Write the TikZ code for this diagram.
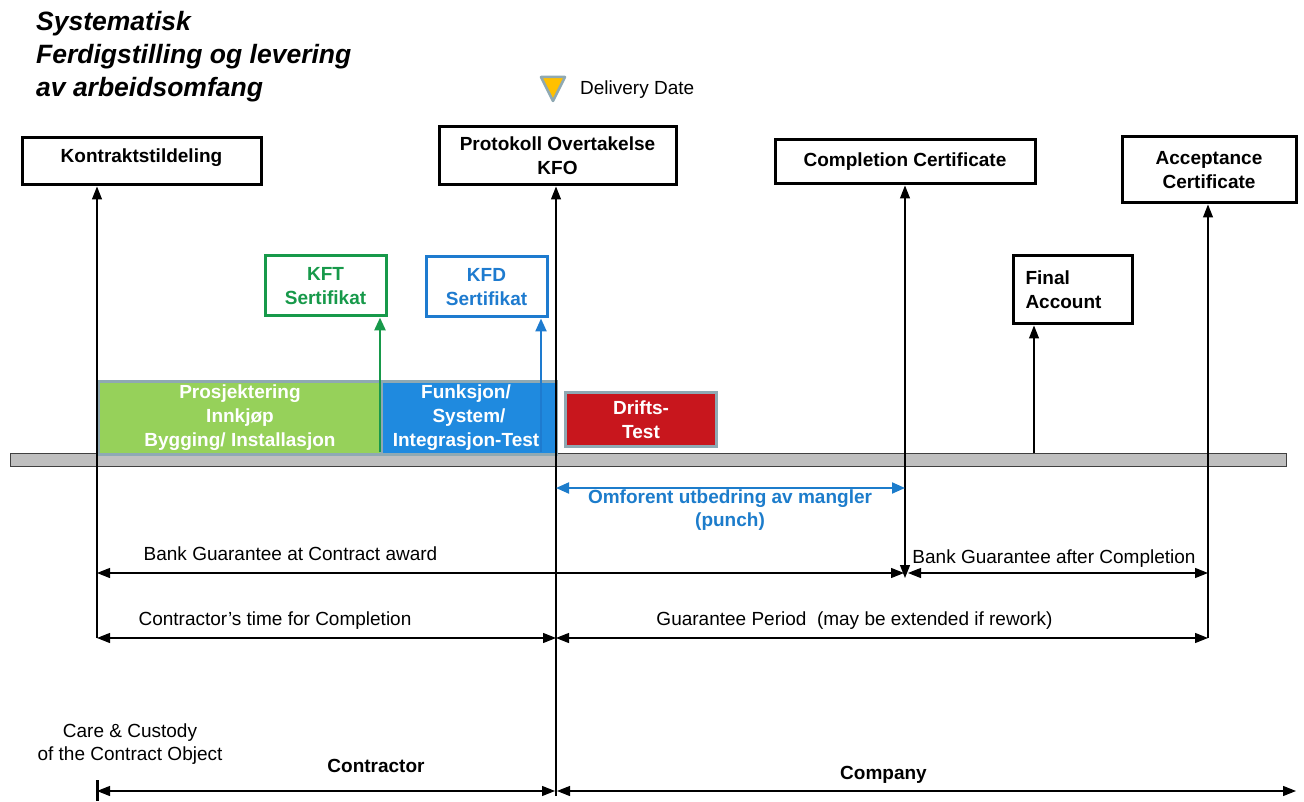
\documentclass[tikz,border=0pt]{standalone}
\usepackage{fontspec}
\setmainfont{Liberation Sans}
\usetikzlibrary{arrows.meta,calc}

\definecolor{pgreen}{HTML}{96D15A}
\definecolor{pblue}{HTML}{1F8ADF}
\definecolor{pred}{HTML}{C8161D}
\definecolor{kgreen}{HTML}{17994A}
\definecolor{kblue}{HTML}{1E7BCF}
\definecolor{punchblue}{HTML}{1C7CCB}
\definecolor{barrim}{HTML}{8FA9B3}
\definecolor{dgold}{HTML}{FFC000}

\begin{document}
\begin{tikzpicture}[x=1pt,y=-1pt,
  every node/.style={inner sep=0pt},
  ttl/.style={font=\bfseries\itshape\fontsize{26.5}{33}\selectfont},
  txt/.style={font=\fontsize{19}{23}\selectfont},
  btxt/.style={font=\bfseries\fontsize{19}{24}\selectfont, align=center},
  keybox/.style={draw=black, line width=3pt, fill=white, btxt},
  certbox/.style={draw=#1, line width=3pt, fill=white, text=#1, btxt},
  phase/.style={fill=#1, draw=barrim, line width=3pt, btxt, text=white},
  hair/.style={line width=1.1pt, black},
  uparr/.style={-{Triangle[length=13pt,width=10pt]}},
  botharr/.style={{Triangle[length=13pt,width=10pt]}-{Triangle[length=13pt,width=10pt]}},
  colarr/.style={-{Triangle[length=13pt,width=11pt]}}
]
\useasboundingbox (0,0) rectangle (1304,802);

% heading
\node[ttl, anchor=base west] (t1) at (36,31) {Systematisk};
\node[ttl, anchor=base west] (t2) at (36,64) {Ferdigstilling og levering};
\node[ttl, anchor=base west] (t3) at (36,97) {av arbeidsomfang};

% delivery date marker
\draw[fill=dgold, draw=barrim, line width=2.5pt, line join=round]
  (541,77) -- (565,77) -- (553,101) -- cycle;
\node[txt, anchor=base west] (dd) at (580,95) {Delivery Date};

% timeline bar
\node[draw=black!75, fill=black!25, line width=1pt, minimum width=1276,
      minimum height=13, anchor=north west] (tl) at (10,453) {};

% phases
\node[phase=pgreen, minimum width=283, minimum height=73, anchor=north west]
  (pg) at (97,380) {Prosjektering\\Innkjøp\\Bygging/ Installasjon};
\node[phase=pblue, minimum width=175, minimum height=73, anchor=north west]
  (pb) at (380,380) {Funksjon/\hspace*{6pt}\\System/\hspace*{6pt}\\Integrasjon-Test\hspace*{6pt}};
\node[phase=pred, minimum width=151, minimum height=54, anchor=north west]
  (pr) at (564,391) {Drifts-\\Test};

% milestone boxes
\node[keybox, minimum width=239, minimum height=47, text height=14pt, text depth=11pt]
  (kt) at (141.5,161.5) {Kontraktstildeling};
\node[keybox, minimum width=237, minimum height=58]
  (po) at (557.5,156) {Protokoll Overtakelse\\KFO};
\node[keybox, minimum width=260, minimum height=44]
  (cc) at (905,162) {Completion Certificate};
\node[keybox, minimum width=174, minimum height=66]
  (ac) at (1209,170) {Acceptance\\Certificate};
\node[keybox, minimum height=68, text width=94, inner xsep=12.5pt, align=left]
  (fa) at (1072.5,290) {Final\\Account};
\node[certbox=kgreen, minimum width=121, minimum height=60]
  (kft) at (325.5,286) {KFT\\Sertifikat};
\node[certbox=kblue, minimum width=121, minimum height=60]
  (kfd) at (486.5,287) {KFD\\Sertifikat};

% vertical connectors
\coordinate (vK) at (97,638);
\coordinate (vP) at (556,796);
\coordinate (vC) at (905,578);
\coordinate (vF) at (1034,453);
\coordinate (vA) at (1208,638);
\coordinate (vG) at (380,452);
\coordinate (vB) at (541,452);
\draw[hair, uparr] (vK) -- (vK |- kt.south);
\draw[hair, uparr] (vP) -- (vP |- po.south);
\draw[hair, botharr] (vC |- cc.south) -- (vC);
\draw[hair, uparr] (vF) -- (vF |- fa.south);
\draw[hair, uparr] (vA) -- (vA |- ac.south);
\draw[kgreen, line width=2.8pt, colarr] (vG) -- (vG |- kft.south);
\draw[kblue, line width=2.3pt, colarr] (vB) -- (vB |- kfd.south);

% punch period
\coordinate (pL) at (556,488);
\coordinate (pR) at (905,488);
\draw[punchblue, line width=2pt,
  {Triangle[length=13pt,width=11pt]}-{Triangle[length=13pt,width=11pt]}] (pL) -- (pR);
\node[btxt, text=punchblue, font=\bfseries\fontsize{19}{23}\selectfont]
  (pt) at (730,510.5) {Omforent utbedring av mangler\\(punch)};

% guarantee periods
\coordinate (g1L) at (97,573);
\coordinate (g1R) at (904,573);
\coordinate (g2L) at (908,573);
\coordinate (g2R) at (1208,573);
\draw[hair, botharr] (g1L) -- (g1R);
\draw[hair, botharr] (g2L) -- (g2R);
\node[txt, anchor=base] (g1t) at (290.5,560) {Bank Guarantee at Contract award};
\node[txt, anchor=base] (g2t) at (1054,563) {Bank Guarantee after Completion};

\coordinate (c1L) at (97,638);
\coordinate (c1R) at (556,638);
\coordinate (c2R) at (1208,638);
\draw[hair, botharr] (c1L) -- (c1R);
\draw[hair, botharr] (c1R) -- (c2R);
\node[txt, anchor=base] (c1t) at (275,625) {Contractor’s time for Completion};
\node[txt, anchor=base] (c2t) at (854.5,625) {Guarantee Period~~(may be extended if rework)};

% care and custody
\node[txt, align=center] (cct) at (130,744) {Care \& Custody\\of the Contract Object};
\coordinate (oL) at (97,791);
\coordinate (oM1) at (555,791);
\coordinate (oM2) at (557,791);
\coordinate (oR) at (1296,791);
\draw[line width=3pt] (97,780) -- (97,801);
\draw[hair, botharr] (oL) -- (oM1);
\draw[hair, botharr] (oM2) -- (oR);
\node[font=\bfseries\fontsize{19}{23}\selectfont, anchor=base] (ctr) at (376,772) {Contractor};
\node[font=\bfseries\fontsize{19}{23}\selectfont, anchor=base] (cmp) at (883.5,779) {Company};
\end{tikzpicture}
\end{document}
